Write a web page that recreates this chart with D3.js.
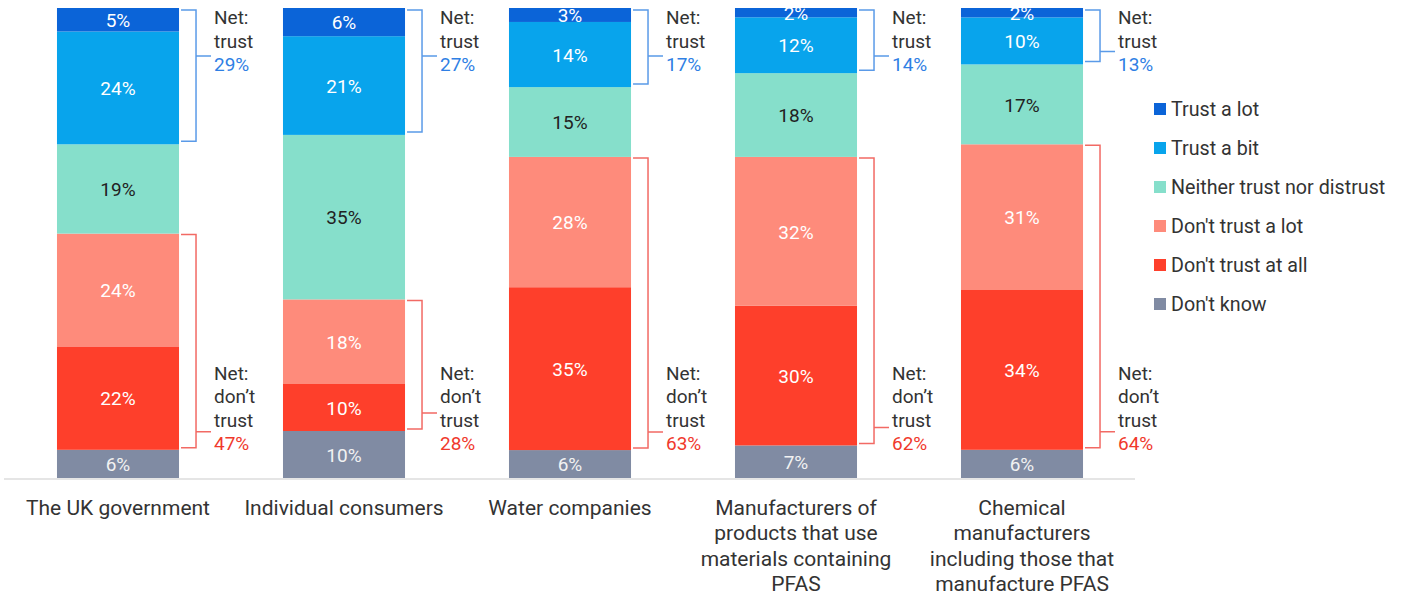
<!DOCTYPE html>
<html>
<head>
<meta charset="utf-8">
<script src="https://cdn.jsdelivr.net/npm/d3@7"></script>
<style>
  html, body { margin: 0; padding: 0; background: #fff; }
  svg { display: block; font-family: Roboto, "Liberation Sans", Arial, sans-serif; }
</style>
</head>
<body>
<svg id="chart" width="1402" height="597"></svg>
<script>
// Trust in organisations to manage PFAS, share of respondents (%)
const categories = [
  "The UK government",
  "Individual consumers",
  "Water companies",
  "Manufacturers of products that use materials containing PFAS",
  "Chemical manufacturers including those that manufacture PFAS"
];
const categoryLines = [
  ["The UK government"],
  ["Individual consumers"],
  ["Water companies"],
  ["Manufacturers of", "products that use", "materials containing", "PFAS"],
  ["Chemical", "manufacturers", "including those that", "manufacture PFAS"]
];
const seriesNames = ["Trust a lot", "Trust a bit", "Neither trust nor distrust", "Don't trust a lot", "Don't trust at all", "Don't know"];
const trustALot      = [5, 6, 3, 2, 2];
const trustABit      = [24, 21, 14, 12, 10];
const neither        = [19, 35, 15, 18, 17];
const dontTrustALot  = [24, 18, 28, 32, 31];
const dontTrustAtAll = [22, 10, 35, 30, 34];
const dontKnow       = [6, 10, 6, 7, 6];
const netTrust       = [29, 27, 17, 14, 13];
const netDontTrust   = [47, 28, 63, 62, 64];

const colors = ["#0b64d8", "#08a4ec", "#86dfcb", "#fe8b7b", "#fe3f2b", "#808ba3"];
const labelColors = ["#fff", "#fff", "#222", "#fff", "#fff", "#f2f2f2"];

const seriesValues = [trustALot, trustABit, neither, dontTrustALot, dontTrustAtAll, dontKnow];

// table: one row per organisation
const rows = categories.map((c, i) => {
  const r = { category: c, index: i };
  seriesNames.forEach((s, j) => r[s] = seriesValues[j][i]);
  return r;
});

const svg = d3.select("#chart");
const textColor = "#333";

const x = d3.scaleBand()
  .domain(categories)
  .range([5, 1135])
  .paddingInner(0.46)
  .paddingOuter(0.23);

const y = d3.scaleLinear().domain([0, 1]).range([478, 8]);

// stack from bottom (Don't know) to top (Trust a lot), each bar filling 100%
const stackKeys = seriesNames.slice().reverse();
const stacked = d3.stack().keys(stackKeys).offset(d3.stackOffsetExpand)(rows);

const layers = svg.append("g").selectAll("g")
  .data(stacked)
  .join("g")
  .attr("fill", d => colors[seriesNames.indexOf(d.key)]);

layers.selectAll("rect")
  .data(d => d)
  .join("rect")
  .attr("x", d => x(d.data.category))
  .attr("width", x.bandwidth())
  .attr("y", d => y(d[1]))
  .attr("height", d => y(d[0]) - y(d[1]));

// segment value labels
const valueLabels = svg.append("g")
  .attr("font-size", 19)
  .attr("text-anchor", "middle");
stacked.forEach(layer => {
  const si = seriesNames.indexOf(layer.key);
  layer.forEach(d => {
    valueLabels.append("text")
      .attr("x", x(d.data.category) + x.bandwidth() / 2)
      .attr("y", (y(d[0]) + y(d[1])) / 2)
      .attr("dy", "0.38em")
      .attr("fill", labelColors[si])
      .text(d.data[layer.key] + "%");
  });
});

// baseline
svg.append("line")
  .attr("x1", 4).attr("x2", 1135)
  .attr("y1", y(0) + 1).attr("y2", y(0) + 1)
  .attr("stroke", "#dcdcdc").attr("stroke-width", 1.5);

// net brackets
const byKey = k => stacked.find(s => s.key === k);
const blue = { line: "#5a9ae8", text: "#2f7fe4" };
const red = { line: "#f26a64", text: "#f0392c" };

function bracket(i, top, bottom, tickY, col) {
  const xr = x(categories[i]) + x.bandwidth();
  const xv = xr + 17;
  svg.append("path")
    .attr("d", `M${xr + 2},${top}H${xv}V${bottom}H${xr + 2}M${xv},${tickY}H${xv + 15}`)
    .attr("fill", "none")
    .attr("stroke", col.line)
    .attr("stroke-width", 1.5);
}

function netLabel(i, lines, value, lastBaseline, col) {
  const xr = x(categories[i]) + x.bandwidth();
  const t = svg.append("text")
    .attr("x", xr + 35)
    .attr("font-size", 19);
  const n = lines.length + 1;
  lines.forEach((l, k) => {
    t.append("tspan")
      .attr("x", xr + 35)
      .attr("y", lastBaseline - (n - 1 - k) * 23.5)
      .attr("fill", textColor)
      .text(l);
  });
  t.append("tspan")
    .attr("x", xr + 35)
    .attr("y", lastBaseline)
    .attr("fill", col.text)
    .text(value + "%");
}

categories.forEach((c, i) => {
  // trust: Trust a bit + Trust a lot
  const tTop = y(byKey("Trust a lot")[i][1]) + 2;
  const tBot = y(byKey("Trust a bit")[i][0]) - 3;
  const tBase = y(1) + 63;
  const tTick = Math.min(tBase - 15, tBot - 10);
  bracket(i, tTop, tBot, tTick, blue);
  netLabel(i, ["Net:", "trust"], netTrust[i], tBase, blue);

  // don't trust: Don't trust at all + Don't trust a lot
  const dTop = y(byKey("Don't trust a lot")[i][1]) + 1;
  const dBot = y(byKey("Don't trust at all")[i][0]) - 2;
  const dBase = y(0) - 28;
  const dTick = Math.min(dBase - 17, dBot - 16);
  bracket(i, dTop, dBot, dTick, red);
  netLabel(i, ["Net:", "don\u2019t", "trust"], netDontTrust[i], dBase, red);
});

// category labels
const catG = svg.append("g")
  .attr("font-size", 21)
  .attr("fill", textColor)
  .attr("text-anchor", "middle");
categories.forEach((c, i) => {
  const t = catG.append("text");
  categoryLines[i].forEach((l, k) => {
    t.append("tspan")
      .attr("x", x(c) + x.bandwidth() / 2)
      .attr("y", 515 + k * 25.3)
      .text(l);
  });
});

// legend
const legend = svg.append("g").attr("transform", "translate(1154,0)");
seriesNames.forEach((s, j) => {
  const cy = 109 + j * 39;
  legend.append("rect")
    .attr("x", 0).attr("y", cy - 6)
    .attr("width", 12).attr("height", 12)
    .attr("fill", colors[j]);
  legend.append("text")
    .attr("x", 17).attr("y", cy)
    .attr("dy", "0.35em")
    .attr("font-size", 19.7)
    .attr("fill", textColor)
    .text(s);
});
</script>
</body>
</html>
